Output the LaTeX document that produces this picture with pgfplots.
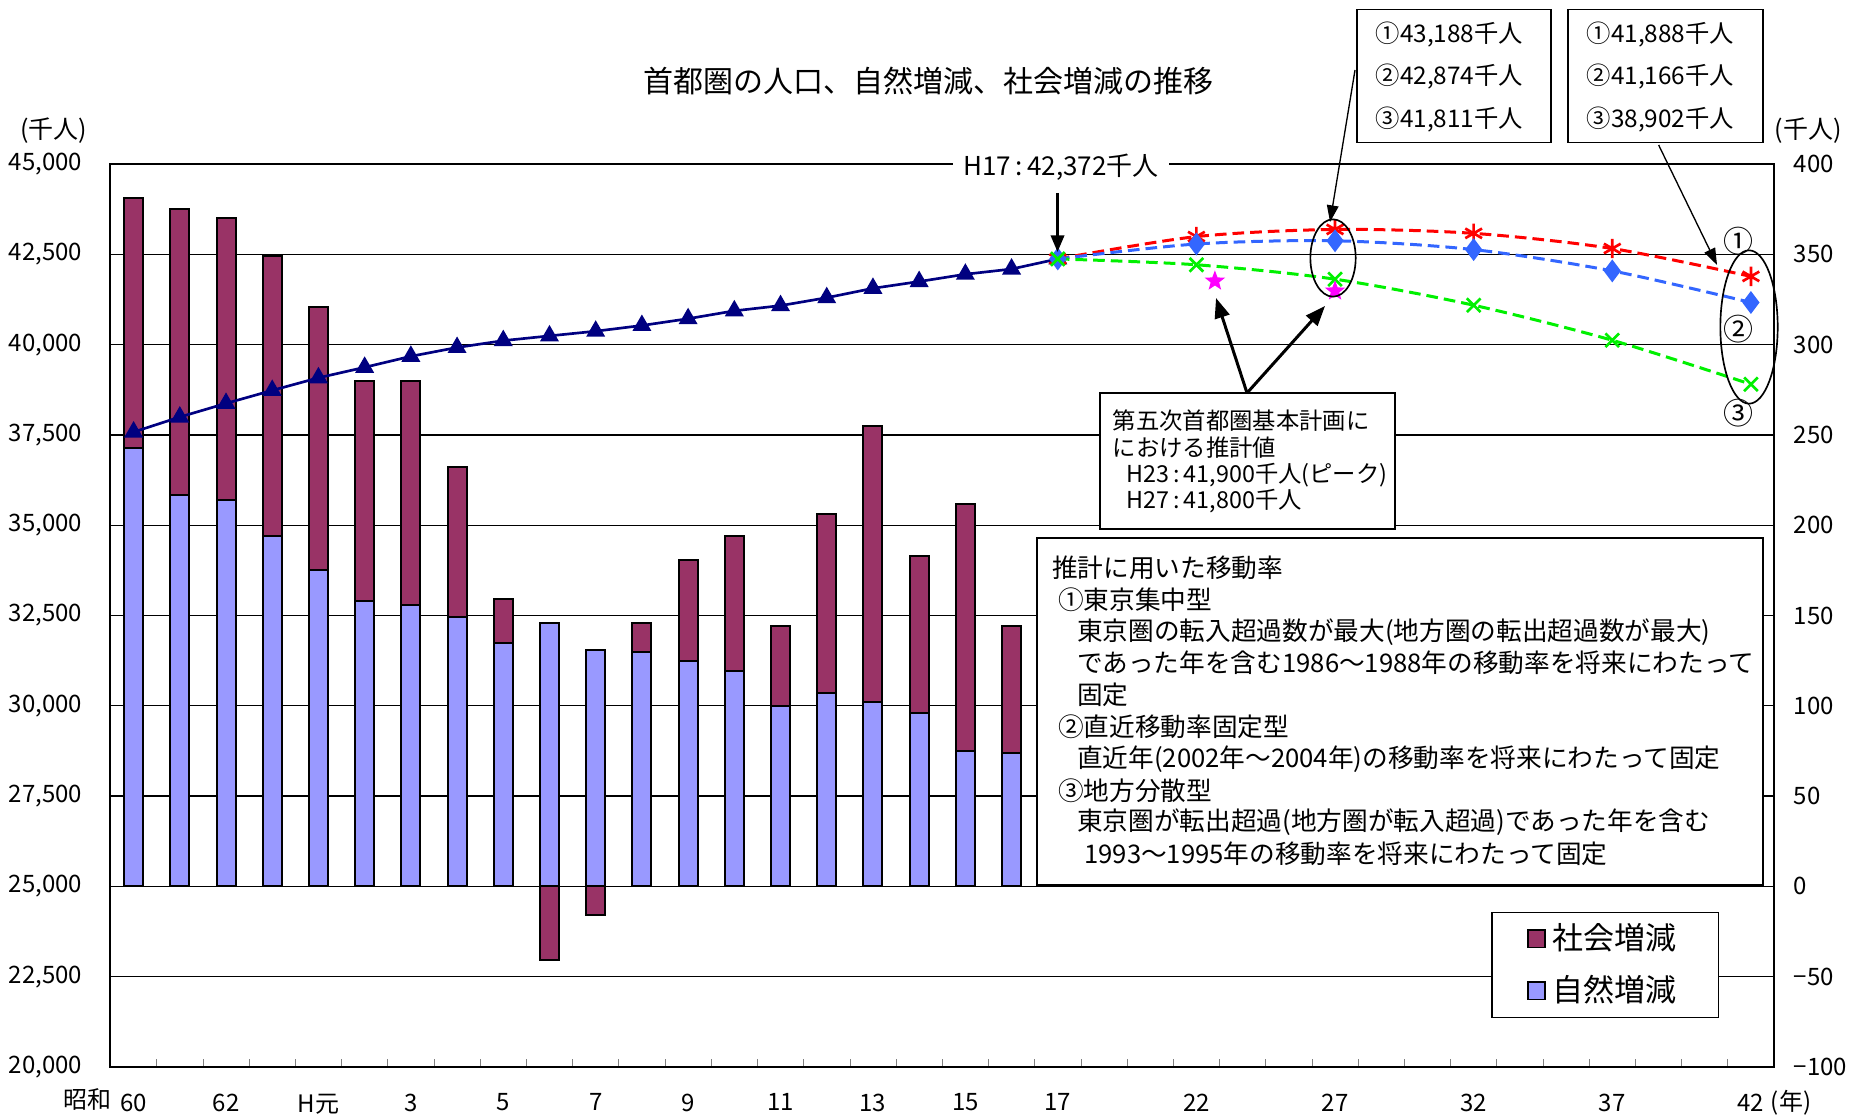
\documentclass[border=0pt]{standalone}
\usepackage{fontspec}
\setmainfont{Noto Sans CJK JP}
\usepackage{pgfplots}
\usepackage{pgfplotstable}
\pgfplotsset{compat=1.18}
\usetikzlibrary{arrows.meta}
\newcommand\fs[1]{\fontsize{#1}{#1}\selectfont}
\definecolor{socc}{RGB}{153,51,102}
\definecolor{natc}{RGB}{153,153,255}
\definecolor{popc}{RGB}{0,0,128}
\definecolor{cA}{RGB}{255,0,0}
\definecolor{cB}{RGB}{51,102,255}
\definecolor{cC}{RGB}{0,240,0}
\definecolor{magc}{RGB}{255,0,255}
\pgfdeclareplotmark{fstar}{%
  \pgfpathmoveto{\pgfpointpolar{90}{\pgfplotmarksize}}%
  \pgfpathlineto{\pgfpointpolar{126}{0.42\pgfplotmarksize}}%
  \pgfpathlineto{\pgfpointpolar{162}{\pgfplotmarksize}}%
  \pgfpathlineto{\pgfpointpolar{198}{0.42\pgfplotmarksize}}%
  \pgfpathlineto{\pgfpointpolar{234}{\pgfplotmarksize}}%
  \pgfpathlineto{\pgfpointpolar{270}{0.42\pgfplotmarksize}}%
  \pgfpathlineto{\pgfpointpolar{306}{\pgfplotmarksize}}%
  \pgfpathlineto{\pgfpointpolar{342}{0.42\pgfplotmarksize}}%
  \pgfpathlineto{\pgfpointpolar{18}{\pgfplotmarksize}}%
  \pgfpathlineto{\pgfpointpolar{54}{0.42\pgfplotmarksize}}%
  \pgfpathclose\pgfusepathqfill}
\pgfplotsset{sqlegend/.style={legend image code/.code={\draw[##1,draw=black,line width=0.5pt] (0pt,-2.6pt) rectangle (5.2pt,2.6pt);}}}

\pgfplotstableread{
x nat soc
0 243 138
1 217 158
2 214 156
3 194 155
4 175 146
5 158 122
6 156 124
7 149 83
8 135 24
9 146 -41
10 131 -16
11 130 16
12 125 56
13 119 75
14 100 44
15 107 99
16 102 153
17 96 87
18 75 137
19 74 70
}\bars
\pgfplotstableread{
x y
0 37580
1 37995
2 38372
3 38732
4 39081
5 39371
6 39676
7 39920
8 40110
9 40241
10 40371
11 40529
12 40717
13 40935
14 41079
15 41298
16 41558
17 41746
18 41948
19 42092
20 42372
}\pop
\pgfplotstableread{
x r b g
20 42372 42372 42372
23 42990 42785 42210
26 43188 42874 41811
29 43080 42630 41090
32 42660 42040 40120
35 41888 41166 38902
}\proj
\pgfplotstableread{
x y
23.4 41760
26 41484
}\plan

\begin{document}
\begin{tikzpicture}
\useasboundingbox (0,0) rectangle (558.9pt,334.8pt);
% ---------- bars (right axis) ----------
\begin{axis}[
  at={(33.15pt,14.7pt)}, anchor=south west, scale only axis,
  width=499.05pt, height=270.9pt,
  xmin=-0.5, xmax=35.5, ymin=-100, ymax=400,
  xtick={0,2,4,6,8,10,12,14,16,18,20,23,26,29,32,35},
  xticklabels={60,62,H元,3,5,7,9,11,13,15,17,22,27,32,37,42},
  minor xtick={0.5,1.5,...,34.5},
  major tick length=0pt, minor tick length=2.5pt, tick align=inside,
  xtick pos=left,
  ytick={-100,-50,...,400},
  yticklabels={−100,−50,0,50,100,150,200,250,300,350,400},
  yticklabel pos=right,
  ytick style={draw=none},
  ymajorgrids, grid style={black, line width=0.4pt},
  axis line style={black, line width=0.6pt},
  tick label style={font=\fs{7.2}},
  yticklabel style={xshift=2.4pt},
  xticklabel style={yshift=-4.5pt},
  legend style={at={(0.830,0.0543)}, anchor=south west, draw=black, line width=0.4pt,
    fill=white, font=\fs{9.3}, inner xsep=10.5pt, inner ysep=1.2pt, row sep=2.3pt},
  legend cell align=left,
]
\addplot[ybar, bar width=5.7pt, bar shift=0pt, fill=socc, draw=black, line width=0.6pt, sqlegend]
  table[x=x, y expr={ifthenelse(\thisrow{soc}>0,\thisrow{nat}+\thisrow{soc},\thisrow{soc})}] {\bars};
\addplot[ybar, bar width=5.7pt, bar shift=0pt, fill=natc, draw=black, line width=0.6pt, sqlegend]
  table[x=x, y=nat] {\bars};
\legend{社会増減,自然増減}
\end{axis}
% ---------- population (left axis) ----------
\begin{axis}[
  at={(33.15pt,14.7pt)}, anchor=south west, scale only axis,
  width=499.05pt, height=270.9pt,
  xmin=-0.5, xmax=35.5, ymin=20000, ymax=45000,
  axis line style={draw=none},
  xtick=\empty,
  scaled y ticks=false,
  ytick={20000,22500,...,45000},
  yticklabels={{20,000},{22,500},{25,000},{27,500},{30,000},{32,500},{35,000},{37,500},{40,000},{42,500},{45,000}},
  ytick style={draw=none},
  tick label style={font=\fs{7.2}},
  yticklabel style={xshift=-5pt},
  clip=false,
]
\addplot[popc, line width=0.8pt, mark=triangle*, mark size=2.5pt] table[x=x,y=y] {\pop};
\addplot[cA, line width=0.9pt, dash pattern=on 3.5pt off 1.8pt, smooth, mark=asterisk, mark size=2.9pt, mark options={solid, line width=0.8pt}] table[x=x,y=r] {\proj};
\addplot[cB, line width=0.9pt, dash pattern=on 3.5pt off 1.8pt, smooth, mark=diamond*, mark size=2.7pt, mark options={solid}] table[x=x,y=b] {\proj};
\addplot[cC, line width=0.9pt, dash pattern=on 3.5pt off 1.8pt, smooth, mark=x, mark size=2.9pt, mark options={solid, line width=0.8pt}] table[x=x,y=g] {\proj};
\addplot[magc, only marks, mark=fstar, mark size=3.2pt] table[x=x,y=y] {\plan};
\end{axis}
% ---------- annotations (coordinates in reference pixels) ----------
\begin{scope}[shift={(0pt,334.8pt)}, x=0.3pt, y=-0.3pt]
\node[font=\fs{9}] at (928,81) {首都圏の人口、自然増減、社会増減の推移};
\node[font=\fs{7.5}] at (53.5,131) {(千人)};
\node[font=\fs{7.5}] at (1808,131) {(千人)};
\node[font=\fs{7.2}] at (87.5,1099) {昭和};
\node[font=\fs{7.2}] at (1791,1103) {(年)};
% H17 label
\node[fill=white, inner xsep=3pt, inner ysep=1pt, font=\fs{7.8}] at (1061,167.5) {H17\,:\,42,372千人};
\draw[-{Triangle[length=5pt,width=4pt]}, line width=0.8pt] (1057.5,193) -- (1057.5,252);
% top boxes
\draw[line width=0.5pt, fill=white] (1357,9.5) rectangle (1551,142.6);
\draw[line width=0.5pt, fill=white] (1568,9.5) rectangle (1763,142.6);
\node[anchor=west, inner sep=0pt, font=\fs{7.3}] at (1375,34.5) {①43,188千人};
\node[anchor=west, inner sep=0pt, font=\fs{7.3}] at (1375,77) {②42,874千人};
\node[anchor=west, inner sep=0pt, font=\fs{7.3}] at (1375,120) {③41,811千人};
\node[anchor=west, inner sep=0pt, font=\fs{7.3}] at (1586,34.5) {①41,888千人};
\node[anchor=west, inner sep=0pt, font=\fs{7.3}] at (1586,77) {②41,166千人};
\node[anchor=west, inner sep=0pt, font=\fs{7.3}] at (1586,120) {③38,902千人};
\draw[-{Triangle[length=5pt,width=3.5pt]}, line width=0.4pt] (1355,70) -- (1330,222);
\draw[-{Triangle[length=5pt,width=3.5pt]}, line width=0.4pt] (1658.6,145) -- (1717,265);
% ellipses and circled numbers
\draw[line width=0.5pt] (1333,258) ellipse [x radius=6.8pt, y radius=11.6pt];
\draw[line width=0.5pt] (1749,327) ellipse [x radius=8.6pt, y radius=23pt];
\node[font=\fs{9}] at (1738,241) {①};
\node[font=\fs{9}] at (1738,329) {②};
\node[font=\fs{9}] at (1738,413.5) {③};
% plan box
\draw[line width=0.5pt, fill=white] (1100,393) rectangle (1395,529);
\node[anchor=west, inner sep=0pt, font=\fs{7}] at (1112,420.6) {第五次首都圏基本計画に};
\node[anchor=west, inner sep=0pt, font=\fs{7}] at (1112,448) {における推計値};
\node[anchor=west, inner sep=0pt, font=\fs{7}] at (1126,475) {H23\,:\,41,900千人(ピーク)};
\node[anchor=west, inner sep=0pt, font=\fs{7}] at (1126,501) {H27\,:\,41,800千人};
\draw[-{Triangle[length=6pt,width=4.5pt]}, line width=0.9pt] (1247,393) -- (1216,298);
\draw[-{Triangle[length=6pt,width=4.5pt]}, line width=0.9pt] (1247,393) -- (1325,306);
% method box
\draw[line width=0.6pt, fill=white] (1037,538) rectangle (1763,885);
\begin{scope}[every node/.style={anchor=west, inner sep=0pt, font=\fs{7.7}}]
\node at (1051.5,568) {推計に用いた移動率};
\node at (1057.5,600) {①東京集中型};
\node at (1076.5,632) {東京圏の転入超過数が最大(地方圏の転出超過数が最大)};
\node at (1076.5,663) {であった年を含む1986～1988年の移動率を将来にわたって};
\node at (1076.5,695) {固定};
\node at (1057.5,727) {②直近移動率固定型};
\node at (1076.5,759) {直近年(2002年～2004年)の移動率を将来にわたって固定};
\node at (1057.5,791) {③地方分散型};
\node at (1076.5,822) {東京圏が転出超過(地方圏が転入超過)であった年を含む};
\node at (1083.6,854) {1993～1995年の移動率を将来にわたって固定};
\end{scope}
\end{scope}
\end{tikzpicture}
\end{document}
